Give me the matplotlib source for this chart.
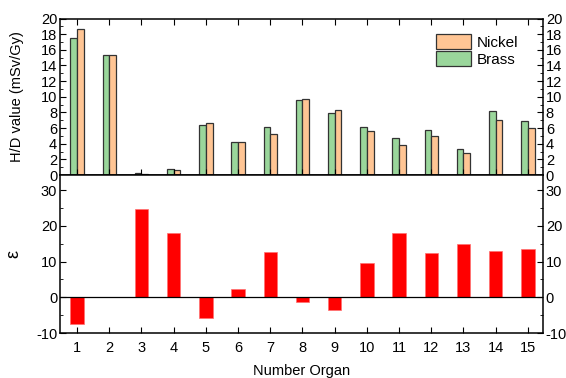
import matplotlib
matplotlib.use("Agg")
import matplotlib.pyplot as plt
import numpy as np
from matplotlib.ticker import MultipleLocator

plt.rcParams["font.family"] = ["Liberation Sans", "DejaVu Sans"]
plt.rcParams["font.size"] = 10.5
plt.rcParams["axes.unicode_minus"] = False

organs = list(range(1, 16))
brass = [17.45, 15.28, 0.2, 0.72, 6.34, 4.26, 6.09, 9.57, 7.87, 6.13, 4.68, 5.7, 3.36, 8.13, 6.85]
nickel = [18.72, 15.28, 0.13, 0.6, 6.68, 4.17, 5.28, 9.7, 8.26, 5.57, 3.83, 5.02, 2.85, 7.06, 5.96]
epsilon = [-7.55, 0.0, 24.7, 18.0, -5.8, 2.4, 12.6, -1.3, -3.5, 9.7, 18.1, 12.3, 14.9, 13.0, 13.5]

green = "#9ad69b"
peach = "#ffc594"
red = "#ff0000"

x = np.array(organs)
fig = plt.figure(figsize=(5.66, 3.78), dpi=100)
ax1 = fig.add_axes([0.106, 0.537, 0.8534, 0.414])
ax2 = fig.add_axes([0.106, 0.119, 0.8534, 0.418])

w = 0.21
ax1.bar(x - w / 2, brass, width=w, color=green, edgecolor="#333333", linewidth=0.9, label="Brass")
ax1.bar(x + w / 2, nickel, width=w, color=peach, edgecolor="#333333", linewidth=0.9, label="Nickel")
ax1.set_xlim(0.47, 15.47)
ax1.set_ylim(0, 20)
ax1.set_ylabel("H/D value (mSv/Gy)")
ax1.yaxis.set_label_coords(-0.075, 0.5)
ax1.yaxis.set_major_locator(MultipleLocator(2))
ax1.yaxis.set_minor_locator(MultipleLocator(1))
ax1.set_xticks(organs)
ax1.tick_params(axis="x", which="both", direction="in", top=True, bottom=True, labelbottom=False, length=4)
ax1.tick_params(axis="y", which="both", direction="in", left=True, right=True, labelright=True, pad=2)
ax1.tick_params(axis="y", which="major", length=4)
ax1.tick_params(axis="y", which="minor", length=2)

h, l = ax1.get_legend_handles_labels()
ax1.legend(h[::-1], l[::-1], loc="upper right", bbox_to_anchor=(0.97, 0.97), frameon=False,
           handlelength=2.3, handleheight=1.15, handletextpad=0.35, labelspacing=0.1, borderpad=0.2,
           fontsize=11)

ax2.bar(x, epsilon, width=0.42, color=red, edgecolor="#ff7070", linewidth=0.5)
ax2.axhline(0, color="black", linewidth=0.9)
ax2.set_xlim(0.47, 15.47)
ax2.set_ylim(-10, 34.2)
ax2.set_ylabel("ε", fontsize=13)
ax2.yaxis.set_label_coords(-0.078, 0.5)
ax2.set_xlabel("Number Organ")
ax2.xaxis.set_label_coords(0.5, -0.195)
ax2.set_xticks(organs)
ax2.yaxis.set_major_locator(MultipleLocator(10))
ax2.yaxis.set_minor_locator(MultipleLocator(5))
ax2.tick_params(axis="x", which="both", direction="in", top=False, bottom=True, length=4, pad=6)
ax2.tick_params(axis="y", which="both", direction="in", left=True, right=True, labelright=True, pad=2)
ax2.tick_params(axis="y", which="major", length=4)
ax2.tick_params(axis="y", which="minor", length=2)

for ax in (ax1, ax2):
    for s in ax.spines.values():
        s.set_linewidth(1.1)

fig.savefig("out.png", dpi=100)
